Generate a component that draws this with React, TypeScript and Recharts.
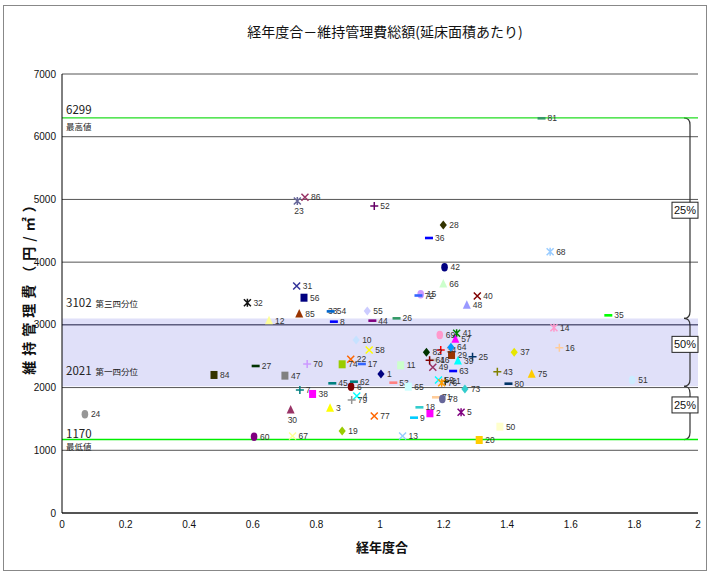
import {
  ScatterChart,
  Scatter,
  XAxis,
  YAxis,
  CartesianGrid,
  ReferenceLine,
  ReferenceArea,
} from "recharts";

// building number / age ratio / maintenance cost per floor area (yen per m2)
const pointIds = [
  1, 2, 3, 4, 5, 6, 7, 8, 9, 10, 11, 12, 13, 14, 15, 16, 17, 18, 19, 20, 21, 22,
  23, 24, 25, 26, 27, 28, 29, 30, 31, 32, 33, 34, 35, 36, 37, 38, 39, 40, 41, 42,
  43, 44, 45, 46, 47, 48, 49, 50, 51, 52, 53, 54, 55, 56, 57, 58, 59, 60, 61, 62,
  63, 64, 65, 66, 67, 68, 69, 70, 71, 72, 73, 74, 75, 76, 77, 78, 79, 80, 81, 82,
  84, 85, 86,
];

const ageRatio = [
  1.003, 1.157, 0.843, 0.927, 1.255, 0.909, 0.748, 0.855, 1.107, 0.925, 1.065,
  0.651, 1.071, 1.547, 1.128, 1.564, 0.943, 1.124, 0.881, 1.312, 1.205, 0.908,
  0.74, 0.072, 1.291, 1.052, 0.609, 1.199, 1.225, 0.719, 0.738, 0.583, 0.818,
  1.191, 1.718, 1.154, 1.422, 0.788, 1.245, 1.306, 1.241, 1.203, 1.369, 0.976,
  0.85, 1.17, 0.701, 1.273, 1.166, 1.377, 1.793, 0.982, 1.042, 0.845, 0.96,
  0.761, 1.237, 0.966, 1.184, 0.604, 1.156, 0.918, 1.23, 1.223, 1.089, 1.199,
  0.725, 1.535, 1.188, 0.771, 1.176, 1.121, 1.267, 0.881, 1.477, 1.194, 0.982,
  1.196, 0.911, 1.404, 1.508, 1.146, 0.478, 0.746, 0.764,
];

const costPerArea = [
  2217, 1590, 1670, 1866, 1606, 2014, 1961, 3051, 1520, 2759, 2355, 3067, 1228,
  2955, 3487, 2636, 2376, 1685, 1308, 1164, 2100, 2451, 4975, 1574, 2493, 3104,
  2344, 4593, 2520, 1642, 3620, 3354, 3215, 2599, 3152, 4385, 2563, 1898, 2424,
  3460, 2865, 3918, 2254, 3067, 2068, 2440, 2190, 3312, 2323, 1376, 2121, 4896,
  2078, 3215, 3221, 3433, 2770, 2599, 2121, 1217, 2435, 2094, 2264, 2642, 2014,
  3652, 1228, 4167, 2838, 2376, 1845, 3468, 1977, 2371, 2212, 2078, 1547, 1818,
  1802, 2062, 6294, 2563, 2201, 3173, 5034,
];

// marker style per point (kept apart from the values)
const markerKinds = [
  "diamond", "square", "triangle", "x", "star", "circle", "plus", "dash", "dash",
  "diamond", "square", "triangle", "x", "star", "circle", "plus", "dash", "dash",
  "diamond", "square", "plus", "x", "star", "circle", "plus", "dash", "dash",
  "diamond", "square", "triangle", "x", "star", "dash", "plus", "dash", "dash",
  "diamond", "square", "triangle", "x", "star", "circle", "plus", "dash", "dash",
  "dash", "square", "triangle", "x", "square", "circle", "plus", "dash", "dash",
  "diamond", "square", "triangle", "x", "x", "circle", "plus", "dash", "dash",
  "diamond", "square", "triangle", "x", "star", "circle", "plus", "dash", "dash",
  "diamond", "square", "triangle", "star", "x", "circle", "plus", "dash", "dash",
  "diamond", "square", "triangle", "x",
];

const markerColors = [
  "#000080", "#ff00ff", "#ffff00", "#00ffff", "#800080", "#800000", "#008080",
  "#0000ff", "#00ccff", "#c6e2ff", "#ccffcc", "#ffff99", "#99ccff", "#ff99cc",
  "#cc99ff", "#ffcc99", "#3366ff", "#33cccc", "#99cc00", "#ffcc00", "#333300",
  "#ff6600", "#666699", "#969696", "#003366", "#339966", "#003300", "#333300",
  "#993300", "#993366", "#333399", "#111111", "#ffffff", "#ff0000", "#00ff00",
  "#0000ff", "#e6e600", "#ff00ff", "#00ffff", "#800000", "#008000", "#000080",
  "#808000", "#800080", "#008080", "#c0c0c0", "#808080", "#9999ff", "#993366",
  "#ffffcc", "#ccecff", "#660066", "#ff8080", "#0066cc", "#ccccff", "#000080",
  "#ff00ff", "#ffff00", "#00ffff", "#800080", "#800000", "#008080", "#0000ff",
  "#0099ff", "#ccffff", "#ccffcc", "#ffff99", "#99ccff", "#ff99cc", "#cc99ff",
  "#ffcc99", "#3366ff", "#33cccc", "#99cc00", "#ffcc00", "#ff9900", "#ff6600",
  "#666699", "#969696", "#003366", "#339966", "#003300", "#333300", "#993300",
  "#993366",
];

const labelsBelow = [23, 30];

const xTicks = [0, 0.2, 0.4, 0.6, 0.8, 1, 1.2, 1.4, 1.6, 1.8, 2];
const yTicks = [0, 1000, 2000, 3000, 4000, 5000, 6000, 7000];

// max / 3rd quartile / 1st quartile / min
const boundValues = [6299, 3102, 2021, 1170];
const boundNames = ["最高値", "第三四分位", "第一四分位", "最低値"];
const shareLabels = ["25%", "50%", "25%"];

const points = pointIds.map((id, i) => ({
  id,
  x: ageRatio[i],
  y: costPerArea[i],
  kind: markerKinds[i],
  color: markerColors[i],
}));

const narrow = "'Liberation Sans Narrow', 'Arial Narrow', 'Liberation Sans', sans-serif";
const jp = "'Noto Sans CJK JP', sans-serif";

function PointMarker(props: any) {
  const { cx, cy, payload } = props;
  if (cx == null || cy == null) return null;
  const c = payload.color;
  let mark: any = null;
  switch (payload.kind) {
    case "circle":
      mark = <ellipse cx={cx} cy={cy} rx={3.3} ry={4.2} fill={c} />;
      break;
    case "square":
      mark = <rect x={cx - 3.5} y={cy - 4} width={7} height={8} fill={c} />;
      break;
    case "diamond":
      mark = (
        <polygon
          points={`${cx},${cy - 4.5} ${cx + 3.6},${cy} ${cx},${cy + 4.5} ${cx - 3.6},${cy}`}
          fill={c}
        />
      );
      break;
    case "triangle":
      mark = (
        <polygon
          points={`${cx},${cy - 5} ${cx + 4},${cy + 3.5} ${cx - 4},${cy + 3.5}`}
          fill={c}
        />
      );
      break;
    case "dash":
      mark = <rect x={cx - 4} y={cy - 1.3} width={8} height={2.6} fill={c} />;
      break;
    case "x":
      mark = (
        <path
          d={`M${cx - 3.5},${cy - 3.5}L${cx + 3.5},${cy + 3.5}M${cx + 3.5},${cy - 3.5}L${cx - 3.5},${cy + 3.5}`}
          stroke={c}
          strokeWidth={1.5}
        />
      );
      break;
    case "plus":
      mark = (
        <path
          d={`M${cx - 4},${cy}L${cx + 4},${cy}M${cx},${cy - 4}L${cx},${cy + 4}`}
          stroke={c}
          strokeWidth={1.5}
        />
      );
      break;
    case "star":
      mark = (
        <path
          d={`M${cx - 3.5},${cy - 3.5}L${cx + 3.5},${cy + 3.5}M${cx + 3.5},${cy - 3.5}L${cx - 3.5},${cy + 3.5}M${cx},${cy - 4}L${cx},${cy + 4}`}
          stroke={c}
          strokeWidth={1.5}
        />
      );
      break;
  }
  const below = labelsBelow.includes(payload.id);
  return (
    <g>
      {mark}
      <text
        x={below ? cx - 3 : cx + 6}
        y={below ? cy + 13 : cy + 3}
        fontSize={8.5}
        fontFamily={narrow}
        fill="#333"
      >
        {payload.id}
      </text>
    </g>
  );
}

function LineTag(props: any) {
  const { viewBox, value, name, mode } = props;
  if (!viewBox) return null;
  const x = viewBox.x + 4;
  const y = viewBox.y;
  if (mode === "inline") {
    return (
      <text x={x} y={y - 11} fill="#222" fontFamily={jp}>
        <tspan fontSize={11.5}>{value}</tspan>
        <tspan fontSize={8.5} dx={4}>{name}</tspan>
      </text>
    );
  }
  const top = mode === "max" ? y - 4 : y - 2;
  const sub = mode === "max" ? y + 12 : y + 10;
  return (
    <g fill="#222" fontFamily={jp}>
      <text x={x} y={top} fontSize={11.5}>{value}</text>
      <text x={x} y={sub} fontSize={8.5}>{name}</text>
    </g>
  );
}

function Brace(props: any) {
  const { x, y, width, height, share } = props;
  const right = x + width;
  const bx = right - 8;
  const top = y;
  const bottom = y + height;
  const mid = (top + bottom) / 2 - 8;
  return (
    <g>
      <path
        d={`M${bx - 6},${top} Q${bx},${top} ${bx},${top + 7} L${bx},${bottom - 7} Q${bx},${bottom} ${bx - 6},${bottom}`}
        fill="none"
        stroke="#333"
        strokeWidth={1.2}
      />
      <rect x={right - 26} y={mid - 8} width={26} height={16} fill="#fff" stroke="#222" strokeWidth={1} />
      <text x={right - 13} y={mid + 4} textAnchor="middle" fontSize={11} fontFamily={narrow} fill="#111">
        {share}
      </text>
    </g>
  );
}

export default function App() {
  return (
    <div style={{ position: "absolute", left: 0, top: 0, width: 710, height: 574, background: "#fff" }}>
      <div
        style={{
          position: "absolute",
          left: 3,
          top: 5,
          width: 702,
          height: 564,
          border: "1px solid #888",
        }}
      />
      <div
        style={{
          position: "absolute",
          left: 0,
          width: 770,
          top: 21,
          textAlign: "center",
          fontFamily: jp,
          fontSize: 14,
          color: "#111",
        }}
      >
        経年度合－維持管理費総額(延床面積あたり)
      </div>
      <div
        style={{
          position: "absolute",
          left: 28,
          top: 284,
          transform: "translate(-50%, -50%) rotate(-90deg)",
          whiteSpace: "nowrap",
          fontFamily: jp,
          fontSize: 14,
          fontWeight: 700,
          letterSpacing: 5,
          color: "#111",
        }}
      >
        維持管理費（円/㎡）
      </div>
      <div
        style={{
          position: "absolute",
          left: 0,
          width: 764,
          top: 537,
          textAlign: "center",
          fontFamily: jp,
          fontSize: 13,
          fontWeight: 600,
          color: "#111",
        }}
      >
        経年度合
      </div>
      <div style={{ position: "absolute", left: 0, top: 0 }}>
        <ScatterChart width={710} height={574} margin={{ top: 74, right: 12, bottom: 41, left: 32 }}>
          <ReferenceArea y1={boundValues[2]} y2={boundValues[1]} fill="#e0e0f9" fillOpacity={1} stroke="none" />
          <CartesianGrid vertical={false} stroke="#555" />
          <XAxis
            type="number"
            dataKey="x"
            domain={[0, 2]}
            ticks={xTicks}
            interval={0}
            tickLine={false}
            axisLine={{ stroke: "#000" }}
            tick={{ fontSize: 10, fontFamily: narrow, fill: "#111" }}
            height={20}
          />
          <YAxis
            type="number"
            dataKey="y"
            domain={[0, 7000]}
            ticks={yTicks}
            interval={0}
            tickLine={false}
            tickMargin={0}
            axisLine={{ stroke: "#000" }}
            tick={{ fontSize: 10, fontFamily: narrow, fill: "#111" }}
            width={30}
          />
          <ReferenceLine y={yTicks[3]} stroke="#1a1a40" strokeWidth={1} />
          <ReferenceLine
            y={boundValues[0]}
            stroke="#22dd22"
            strokeWidth={1.2}
            label={<LineTag value={String(boundValues[0])} name={boundNames[0]} mode="max" />}
          />
          <ReferenceLine
            y={boundValues[1]}
            stroke="none"
            label={<LineTag value={String(boundValues[1])} name={boundNames[1]} mode="inline" />}
          />
          <ReferenceLine
            y={boundValues[2]}
            stroke="none"
            label={<LineTag value={String(boundValues[2])} name={boundNames[2]} mode="inline" />}
          />
          <ReferenceLine
            y={boundValues[3]}
            stroke="#00ee00"
            strokeWidth={1.5}
            label={<LineTag value={String(boundValues[3])} name={boundNames[3]} mode="min" />}
          />
          {shareLabels.map((share, i) => (
            <ReferenceArea
              key={i}
              y1={boundValues[i + 1]}
              y2={boundValues[i]}
              fill="none"
              stroke="none"
              shape={(p: any) => <Brace {...p} share={share} />}
            />
          ))}
          <Scatter data={points} shape={PointMarker} isAnimationActive={false} />
        </ScatterChart>
      </div>
    </div>
  );
}
